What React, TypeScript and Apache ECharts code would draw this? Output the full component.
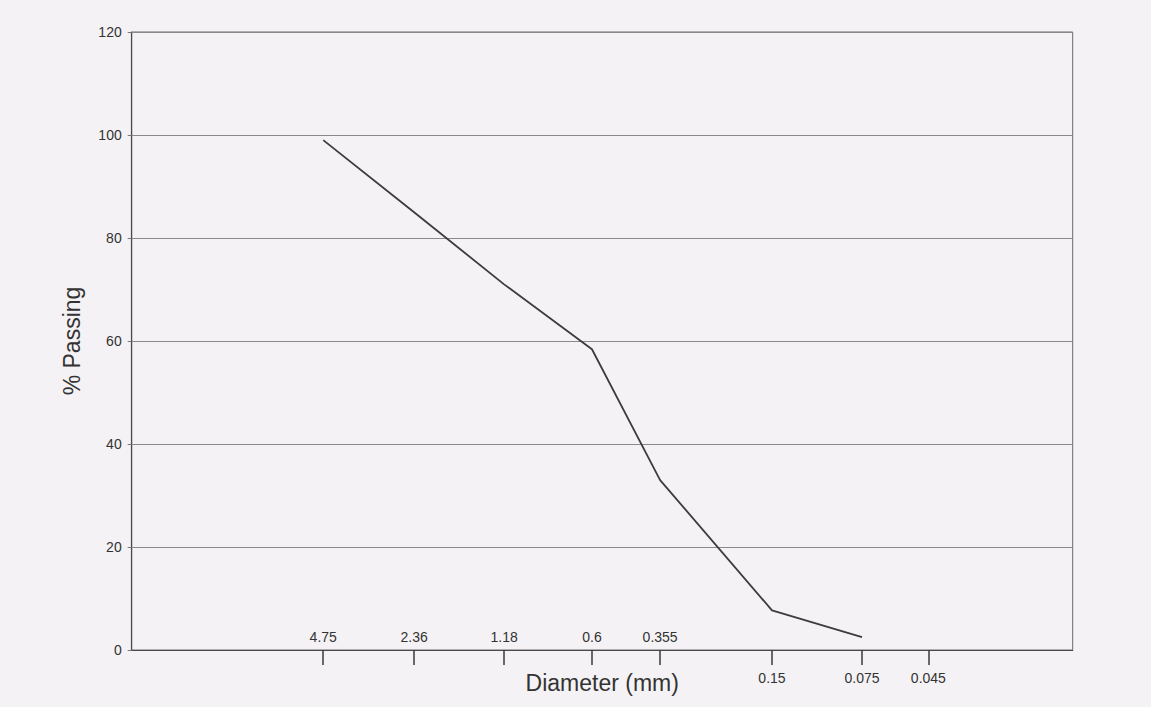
import React, { useEffect, useRef } from "react";
import * as echarts from "echarts";

const sieveSizes = [4.75, 2.36, 1.18, 0.6, 0.355, 0.15, 0.075, 0.045];
const upperLabels = [4.75, 2.36, 1.18, 0.6, 0.355];
const lowerLabels = [0.15, 0.075, 0.045];
const diameters = [4.75, 2.36, 1.18, 0.6, 0.355, 0.15, 0.075];
const passing = [99, 85, 71, 58.4, 33, 7.7, 2.5];
const yTicks = { min: 0, max: 120, interval: 20 };

const FONT = "'Liberation Sans', Arial, sans-serif";

export default function App() {
  const ref = useRef<HTMLDivElement>(null);
  useEffect(() => {
    const chart = echarts.init(ref.current!, null, { renderer: "svg" });
    const xMin = 0.01481;
    const xMax = 20.76;
    const common = {
      type: "log",
      logBase: 10,
      min: xMin,
      max: xMax,
      inverse: true,
      splitLine: { show: false },
      minorTick: { show: false },
    };
    chart.setOption({
      animation: false,
      backgroundColor: "#f5f2f5",
      grid: {
        left: 131.7,
        right: 78.3,
        top: 32,
        bottom: 57,
        show: true,
        borderColor: "#6a6a6a",
        borderWidth: 1,
        backgroundColor: "transparent",
      },
      xAxis: [
        {
          ...common,
          position: "bottom",
          axisLine: { show: true, lineStyle: { color: "#4a4a4a", width: 1.2 } },
          axisTick: {
            show: true,
            inside: false,
            length: 15,
            customValues: sieveSizes,
            lineStyle: { color: "#3a3a3a", width: 1.5 },
          },
          axisLabel: {
            inside: true,
            margin: 6,
            customValues: upperLabels,
            fontFamily: FONT,
            fontSize: 14,
            color: "#333",
            formatter: (v: number) => String(v),
          },
          name: "Diameter (mm)",
          nameLocation: "middle",
          nameGap: 21,
          nameTextStyle: { fontFamily: FONT, fontSize: 23, color: "#333" },
        },
        {
          ...common,
          position: "bottom",
          axisLine: { show: false },
          axisTick: { show: false },
          axisLabel: {
            inside: false,
            margin: 21,
            customValues: lowerLabels,
            fontFamily: FONT,
            fontSize: 14,
            color: "#333",
            formatter: (v: number) => String(v),
          },
        },
      ],
      yAxis: {
        type: "value",
        min: yTicks.min,
        max: yTicks.max,
        interval: yTicks.interval,
        axisLine: { show: true, lineStyle: { color: "#4a4a4a", width: 1.2 } },
        axisTick: { show: true, length: 4, lineStyle: { color: "#777" } },
        axisLabel: { margin: 10, fontFamily: FONT, fontSize: 14, color: "#333" },
        splitLine: { show: true, lineStyle: { color: "#8a8a8a", width: 1 } },
        name: "% Passing",
        nameLocation: "middle",
        nameGap: 48,
        nameTextStyle: { fontFamily: FONT, fontSize: 23, color: "#333" },
      },
      series: [
        {
          type: "line",
          xAxisIndex: 0,
          data: diameters.map((d, i) => [d, passing[i]]),
          showSymbol: false,
          symbol: "none",
          lineStyle: { color: "#3c3c3c", width: 1.8 },
        },
      ],
    });
    return () => chart.dispose();
  }, []);
  return (
    <div
      ref={ref}
      style={{ position: "fixed", left: 0, top: 0, width: 1151, height: 707 }}
    />
  );
}
